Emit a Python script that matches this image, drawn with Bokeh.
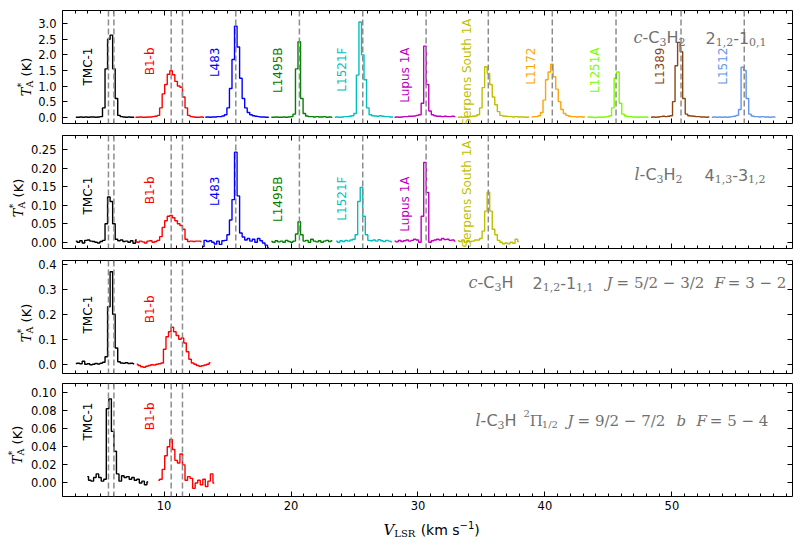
import math
import numpy as np
from bokeh.plotting import figure
from bokeh.layouts import column, row
from bokeh.models import (Range1d, Span, Label, LinearAxis, SingleIntervalTicker,
                          NumeralTickFormatter, CustomLabelingPolicy)
from bokeh.embed import file_html
from bokeh.resources import INLINE

# ---------------------------------------------------------------- data
SOURCES = ["TMC-1", "B1-b", "L483", "L1495B", "L1521F", "Lupus 1A",
           "Serpens South 1A", "L1172", "L1251A", "L1389", "L1512"]
COLORS = ["#000000", "#FF0000", "#0000FF", "#008000", "#00BFBF", "#BF00BF",
          "#BFBF00", "#FFA500", "#7CFC00", "#8B4513", "#6495ED"]
# velocities of the dashed markers (km/s)
VLSR_LINES = [[5.62, 6.05], [10.56, 11.45], [15.65], [20.66], [25.65], [30.64],
              [35.54], [40.58], [45.60], [50.72], [55.70]]
CHAN = 0.2  # channel width (km/s)

# Panel 1: c-C3H2 2(1,2)-1(0,1); first-channel velocity and T_A* (K)
P1_START = [3.05, 7.75, 13.25, 18.45, 23.45, 28.15, 33.15, 38.95, 43.35, 48.35, 53.15]
P1_TMC1 = [0.00, 0.00, 0.01, 0.00, 0.01, 0.00, 0.01, 0.01, 0.00, 0.01, 0.02, 0.30,
           1.55, 2.50, 2.63, 1.55, 0.60, 0.06, 0.02, 0.01, 0.00, 0.01, 0.00, 0.00]
P1_B1B = [0.00, 0.00, 0.01, 0.00, 0.00, 0.01, 0.01, 0.02, 0.03, 0.06, 0.30, 0.75, 1.05, 1.38,
          1.49, 1.36, 1.15, 1.00, 0.96, 0.65, 0.30, 0.06, 0.02, 0.01, 0.00, 0.00, 0.01, 0.00]
P1_L483 = [0.00, 0.01, 0.00, 0.01, 0.01, 0.02, 0.02, 0.04, 0.08, 0.30, 0.92, 1.85, 2.92,
           2.25, 1.25, 0.60, 0.30, 0.15, 0.08, 0.05, 0.03, 0.02, 0.01, 0.01, 0.00, 0.00]
P1_L1495B = [0.00, 0.00, 0.01, 0.00, 0.00, 0.01, 0.00, 0.01, 0.02, 0.10, 1.55, 2.42, 0.60,
             0.12, 0.04, 0.02, 0.02, 0.01, 0.02, 0.01, 0.01, 0.02, 0.00, 0.01, 0.00]
P1_L1521F = [0.00, 0.01, 0.00, 0.01, 0.02, 0.02, 0.03, 0.05, 0.12, 1.35, 3.05, 2.00,
             1.20, 0.30, 0.08, 0.05, 0.04, 0.03, 0.05, 0.03, 0.02, 0.02, 0.01, 0.01]
P1_LUPUS = [0.00, 0.01, 0.00, 0.01, 0.02, 0.02, 0.03, 0.03, 0.04, 0.06, 0.08, 0.45, 2.28,
            1.05, 0.20, 0.08, 0.05, 0.03, 0.03, 0.02, 0.03, 0.02, 0.02, 0.03, 0.02]
P1_SERPENS = [0.00, 0.01, 0.00, 0.01, 0.01, 0.02, 0.03, 0.04, 0.08, 0.30, 0.95, 1.62, 1.40,
              1.05, 0.65, 0.40, 0.18, 0.06, 0.04, 0.03, 0.02, 0.02, 0.01, 0.02, 0.01, 0.01,
              0.01, 0.00, 0.01]
P1_L1172 = [0.01, 0.02, 0.02, 0.05, 0.15, 0.55, 1.20, 1.45, 1.70, 1.30, 0.90, 0.50, 0.25,
            0.12, 0.06, 0.03, 0.02, 0.02, 0.01, 0.02, 0.01, 0.01]
P1_L1251A = [0.00, 0.01, 0.00, -0.01, 0.00, 0.01, 0.00, 0.01, 0.02, 0.05, 0.30, 1.25, 1.45,
             0.45, 0.10, 0.04, 0.02, 0.02, 0.01, 0.01, 0.00, 0.01, 0.00, 0.01, 0.00]
P1_L1389 = [0.00, 0.01, 0.00, 0.01, 0.02, 0.03, 0.02, 0.03, 0.05, 0.50, 1.65, 2.40, 2.10,
            0.60, 0.10, 0.05, 0.04, 0.03, 0.02, 0.02, 0.01, 0.01, 0.00, 0.01]
P1_L1512 = [0.00, 0.01, 0.00, 0.01, 0.00, 0.01, 0.00, 0.01, 0.02, 0.03, 0.06, 0.25, 1.60,
            1.50, 0.60, 0.10, 0.04, 0.02, 0.02, 0.01, 0.02, 0.01, 0.01, 0.00, 0.01, 0.01]

# Panel 2: l-C3H2 4(1,3)-3(1,2)
P2_START = [3.05, 7.75, 13.05, 18.45, 23.55, 28.15, 33.15]
P2_TMC1 = [0.003, 0.000, 0.004, -0.002, 0.005, 0.006, 0.003, 0.002, 0.000, -0.002, 0.002,
           0.005, 0.050, 0.122, 0.110, 0.050, 0.008, 0.004, 0.006, 0.002, 0.003, 0.000,
           0.004, -0.003, 0.006]
P2_B1B = [0.002, 0.000, 0.003, 0.001, -0.002, 0.003, 0.004, 0.000, 0.002, 0.005, 0.015,
          0.040, 0.058, 0.070, 0.072, 0.066, 0.058, 0.050, 0.045, 0.035, 0.008, 0.002,
          0.003, 0.002, 0.003, 0.003, 0.002]
P2_L483 = [-0.012, 0.005, 0.002, 0.004, 0.000, -0.005, 0.003, -0.006, 0.004, 0.005, 0.020,
           0.060, 0.115, 0.243, 0.125, 0.025, 0.014, 0.006, 0.010, 0.003, 0.008, 0.000,
           0.010, 0.004, -0.002, -0.008, -0.015]
P2_L1495B = [0.002, 0.000, 0.004, 0.001, 0.003, 0.000, 0.005, 0.002, 0.000, 0.003, 0.022,
             0.055, 0.020, 0.003, 0.005, 0.000, 0.008, 0.003, 0.001, 0.004, 0.000, 0.003,
             0.005, 0.002, 0.004]
P2_L1521F = [0.003, 0.000, 0.004, 0.002, 0.005, 0.003, 0.006, 0.008, 0.020, 0.110, 0.148,
             0.070, 0.020, 0.005, 0.004, 0.006, 0.003, 0.007, 0.004, 0.002, 0.005, 0.003,
             0.001]
P2_LUPUS = [0.003, 0.001, 0.005, 0.002, 0.004, 0.006, 0.003, 0.005, 0.008, 0.006, 0.000,
            0.070, 0.215, 0.134, 0.000, 0.004, 0.006, 0.008, 0.006, 0.010, 0.007, 0.008,
            0.005, 0.006, 0.003]
P2_SERPENS = [0.004, 0.002, 0.006, 0.000, 0.004, 0.002, 0.003, 0.006, 0.006, 0.010, 0.030,
              0.084, 0.135, 0.084, 0.035, 0.020, 0.005, 0.000, -0.004, -0.002, -0.004, 0.000,
              -0.003, 0.008, 0.002]

# Panel 3: c-C3H 2(1,2)-1(1,1) J=5/2-3/2 F=3-2
P3_START = [3.05, 7.85]
P3_TMC1 = [0.003, 0.004, 0.002, 0.012, 0.000, 0.002, -0.002, 0.000, 0.003, 0.001, 0.004,
           0.008, 0.030, 0.230, 0.370, 0.200, 0.065, 0.010, 0.005, 0.004, 0.006, 0.003,
           0.004, 0.002]
P3_B1B = [0.000, -0.005, -0.010, -0.012, -0.008, -0.005, -0.002, -0.003, 0.000, 0.002, 0.005,
          0.060, 0.110, 0.130, 0.148, 0.130, 0.115, 0.100, 0.105, 0.085, 0.050, 0.020, 0.005,
          0.000, -0.005, -0.008, -0.006, -0.003, 0.000, 0.006]

# Panel 4: l-C3H 2Pi1/2 J=9/2-7/2 b F=5-4
P4_START = [3.95, 9.55]
P4_TMC1 = [0.007, 0.003, 0.002, 0.006, 0.010, 0.006, 0.002, 0.004, 0.082, 0.093, 0.057,
           0.035, 0.010, 0.002, 0.008, 0.006, 0.007, 0.004, 0.006, 0.003, 0.004, 0.000,
           0.002, -0.002, 0.001]
P4_B1B = [0.003, 0.004, 0.015, 0.030, 0.040, 0.048, 0.037, 0.025, 0.022, 0.032, 0.020,
          0.003, 0.007, 0.005, -0.006, 0.000, 0.003, -0.002, 0.004, -0.004, 0.002, 0.010,
          0.000]

P1_DATA = [P1_TMC1, P1_B1B, P1_L483, P1_L1495B, P1_L1521F, P1_LUPUS, P1_SERPENS,
           P1_L1172, P1_L1251A, P1_L1389, P1_L1512]
P2_DATA = [P2_TMC1, P2_B1B, P2_L483, P2_L1495B, P2_L1521F, P2_LUPUS, P2_SERPENS]
P3_DATA = [P3_TMC1, P3_B1B]
P4_DATA = [P4_TMC1, P4_B1B]

X_LIMITS = (2.0, 59.5)
X_TICK = 10

# ---------------------------------------------------------------- style
SANS = "DejaVu Sans"
SERIF = "DejaVu Serif"
GRAY = "#707070"
FRAME_W, FRAME_H = 730, 113
FRAME_LEFT = 60
NBSP = "\u00a0"

W_SANS = {' ': 0.318, NBSP: 0.318, '-': 0.361, 'C': 0.698, 'H': 0.752, ',': 0.318,
          '(': 0.390, ')': 0.390, 'K': 0.656, 'k': 0.579, 'm': 0.974, 's': 0.521,
          '\u2212': 0.838}
W_SERIF = {' ': 0.318, NBSP: 0.318, ',': 0.318, '/': 0.337, '=': 0.838, '\u2212': 0.838,
           '*': 0.5, 'A': 0.722, 'L': 0.70, 'S': 0.72, 'R': 0.77, '\u03a0': 0.80,
           '\u2009': 0.2}
W_SERIF_IT = {'c': 0.56, 'l': 0.32, 'J': 0.47, 'F': 0.69, 'b': 0.64, 'V': 0.72, 'T': 0.68}


def text_width(text, fam, size, style):
    if fam == SANS:
        table = W_SANS
    elif style == "italic":
        table = W_SERIF_IT
    else:
        table = W_SERIF
    return sum(0.636 if ch.isdigit() else table.get(ch, 0.6) for ch in text) * size


def runs_length(runs):
    return sum(text_width(t, f, s, st) for t, f, s, st, sh, adv in runs if adv)


def add_runs(p, runs, x0, y0, color, vertical=False):
    """runs: (text, family, size, style, shift, advance)"""
    pos = x0
    for text, fam, size, style, shift, adv in runs:
        kw = dict(x_units="screen", y_units="screen", text=text, text_font=fam,
                  text_font_size=f"{size}px", text_font_style=style, text_color=color,
                  text_align="left", text_baseline="alphabetic")
        if vertical:
            lab = Label(x=y0 - shift, y=pos, angle=math.pi / 2, **kw)
        else:
            lab = Label(x=pos, y=y0 + shift, **kw)
        p.add_layout(lab)
        if adv:
            pos += text_width(text, fam, size, style)


NO_LABELS = CustomLabelingPolicy(code="return []")


def style_axis(ax, show):
    ax.axis_line_color = None
    ax.major_tick_in = 5
    ax.major_tick_out = 0
    ax.minor_tick_in = 3
    ax.minor_tick_out = 0
    ax.major_tick_line_color = "black"
    ax.minor_tick_line_color = "black"
    if show:
        ax.major_label_text_font = SANS
        ax.major_label_text_font_size = "11.5px"
        ax.major_label_text_color = "black"
    else:
        ax.major_label_policy = NO_LABELS
        ax.major_label_text_font_size = "0px"
        ax.major_label_standoff = 0


def blank_fig(w, h):
    f = figure(frame_width=w, frame_height=h, x_range=Range1d(0, 1), y_range=Range1d(0, 1),
               output_backend="svg", toolbar_location=None, x_axis_location=None,
               y_axis_location=None, min_border_left=0, min_border_right=0,
               min_border_top=0, min_border_bottom=0, outline_line_color=None,
               background_fill_color="white", border_fill_color="white")
    f.grid.visible = False
    return f


x_range = Range1d(*X_LIMITS)

sub = -4
PANELS = [
    dict(data=P1_DATA, start=P1_START, yr=(-0.2, 3.42), tick=0.5, fmt="0.0",
         label_top=37, serp_top=8, bt=10, bb=6, show_x=False, ylab_w=35, ylab_x=26,
         title=[(571, [("c", SERIF, 16, "italic", 0, True), ("-C", SANS, 16, "normal", 0, True),
                       ("3", SERIF, 11, "normal", sub, True), ("H", SANS, 16, "normal", 0, True),
                       ("2", SERIF, 11, "normal", sub, True)]),
                (643, [("2", SANS, 16, "normal", 0, True), ("1,2", SERIF, 11, "normal", sub, True),
                       ("-1", SANS, 16, "normal", 0, True), ("0,1", SERIF, 11, "normal", sub, True)])],
         title_y=86),
    dict(data=P2_DATA, start=P2_START, yr=(-0.017, 0.288), tick=0.05, fmt="0.00",
         label_top=41, serp_top=5, bt=6, bb=6, show_x=False, ylab_w=27, ylab_x=18,
         title=[(572, [("l", SERIF, 16, "italic", 0, True), ("-C", SANS, 16, "normal", 0, True),
                       ("3", SERIF, 11, "normal", sub, True), ("H", SANS, 16, "normal", 0, True),
                       ("2", SERIF, 11, "normal", sub, True)]),
                (642, [("4", SANS, 16, "normal", 0, True), ("1,3", SERIF, 11, "normal", sub, True),
                       ("-3", SANS, 16, "normal", 0, True), ("1,2", SERIF, 11, "normal", sub, True)])],
         title_y=74),
    dict(data=P3_DATA, start=P3_START, yr=(-0.037, 0.415), tick=0.1, fmt="0.0",
         label_top=35, serp_top=5, bt=6, bb=5, show_x=False, ylab_w=35, ylab_x=26,
         title=[(406, [("c", SERIF, 16, "italic", 0, True), ("-C", SANS, 16, "normal", 0, True),
                       ("3", SERIF, 11, "normal", sub, True), ("H", SANS, 16, "normal", 0, True)]),
                (470, [("2", SANS, 16, "normal", 0, True), ("1,2", SERIF, 11, "normal", sub, True),
                       ("-1", SANS, 16, "normal", 0, True), ("1,1", SERIF, 11, "normal", sub, True)]),
                (544, [("J", SERIF, 15, "italic", 0, True),
                       ("\u2009= 5/2 \u2212 3/2", SERIF, 15, "normal", 0, True)]),
                (652, [("F", SERIF, 15, "italic", 0, True),
                       ("\u2009= 3 \u2212 2", SERIF, 15, "normal", 0, True)])],
         title_y=91),
    dict(data=P4_DATA, start=P4_START, yr=(-0.015, 0.110), tick=0.02, fmt="0.00",
         label_top=19, serp_top=5, bt=5, bb=17, show_x=True, ylab_w=27, ylab_x=17,
         title=[(413, [("l", SERIF, 16, "italic", 0, True), ("-C", SANS, 16, "normal", 0, True),
                       ("3", SERIF, 11, "normal", sub, True), ("H", SANS, 16, "normal", 0, True)]),
                (461, [("2", SERIF, 10, "normal", 7, True), ("\u03a0", SERIF, 15, "normal", 0, True),
                       ("1/2", SERIF, 10, "normal", sub, True)]),
                (505, [("J", SERIF, 15, "italic", 0, True),
                       ("\u2009= 9/2 \u2212 7/2", SERIF, 15, "normal", 0, True)]),
                (614, [("b", SERIF, 15, "italic", 0, True)]),
                (634, [("F", SERIF, 15, "italic", 0, True),
                       ("\u2009= 5 \u2212 4", SERIF, 15, "normal", 0, True)])],
         title_y=76),
]

YLAB = [("T", SERIF, 13, "italic", 0, True), ("*", SERIF, 9.5, "normal", 6, False),
        ("A", SERIF, 9.5, "normal", -2.5, True), (NBSP + "(K)", SANS, 13, "normal", 0, True)]
XLAB = [("V", SERIF, 15, "italic", 0, True), ("LSR", SERIF, 10, "normal", -4, True),
        (NBSP + "(km s", SANS, 14, "normal", 0, True), ("\u22121", SANS, 10, "normal", 5, True),
        (")", SANS, 14, "normal", 0, True)]

rows = []
for cfg in PANELS:
    p = figure(frame_width=FRAME_W, frame_height=FRAME_H, x_range=x_range,
               y_range=Range1d(*cfg["yr"]), output_backend="svg", toolbar_location=None,
               min_border_left=FRAME_LEFT - cfg["ylab_w"], min_border_right=8,
               min_border_top=cfg["bt"], min_border_bottom=cfg["bb"],
               background_fill_color="white", border_fill_color="white",
               outline_line_color="black", outline_line_width=1)
    p.grid.visible = False
    xt = SingleIntervalTicker(interval=X_TICK, num_minor_ticks=10)
    yt = SingleIntervalTicker(interval=cfg["tick"], num_minor_ticks=0)
    bottom_ax = p.xaxis[0]
    left_ax = p.yaxis[0]
    bottom_ax.ticker = xt
    left_ax.ticker = yt
    left_ax.formatter = NumeralTickFormatter(format=cfg["fmt"])
    bottom_ax.formatter = NumeralTickFormatter(format="0")
    top_ax = LinearAxis(ticker=xt)
    right_ax = LinearAxis(ticker=yt)
    p.add_layout(top_ax, "above")
    p.add_layout(right_ax, "right")
    style_axis(bottom_ax, cfg["show_x"])
    style_axis(left_ax, True)
    style_axis(top_ax, False)
    style_axis(right_ax, False)
    left_ax.major_label_standoff = 6
    if cfg["show_x"]:
        bottom_ax.major_label_standoff = 4

    n = len(cfg["data"])
    for i in range(n):
        for v in VLSR_LINES[i]:
            p.add_layout(Span(location=v, dimension="height", line_color="#8c8c8c",
                              line_dash="6 3", line_width=1.5))
    for i, (start, vals) in enumerate(zip(cfg["start"], cfg["data"])):
        vel = start + CHAN * np.arange(len(vals))
        p.step(x=vel, y=vals, mode="center", line_color=COLORS[i], line_width=1.4)
    for i in range(n):
        top = cfg["serp_top"] if SOURCES[i] == "Serpens South 1A" else cfg["label_top"]
        p.add_layout(Label(x=VLSR_LINES[i][0] - 1.65, y=FRAME_H - top, x_units="data",
                           y_units="screen", text=SOURCES[i], angle=math.pi / 2,
                           text_align="right", text_baseline="middle", text_font=SANS,
                           text_font_size="12px", text_color=COLORS[i]))
    for x0, runs in cfg["title"]:
        add_runs(p, runs, x0, cfg["title_y"], GRAY)

    # y-axis label lives in its own narrow figure to the left
    total_h = cfg["bt"] + FRAME_H + cfg["bb"]
    yl = blank_fig(cfg["ylab_w"], total_h)
    ystart = cfg["bb"] + FRAME_H / 2 - runs_length(YLAB) / 2
    add_runs(yl, YLAB, ystart, cfg["ylab_x"], "black", vertical=True)
    rows.append(row(yl, p))

xl = blank_fig(FRAME_LEFT + FRAME_W + 8, 28)
add_runs(xl, XLAB, 383, 12, "black")

layout = column(*rows, xl)
open("out.html", "w").write(file_html(layout, INLINE))
